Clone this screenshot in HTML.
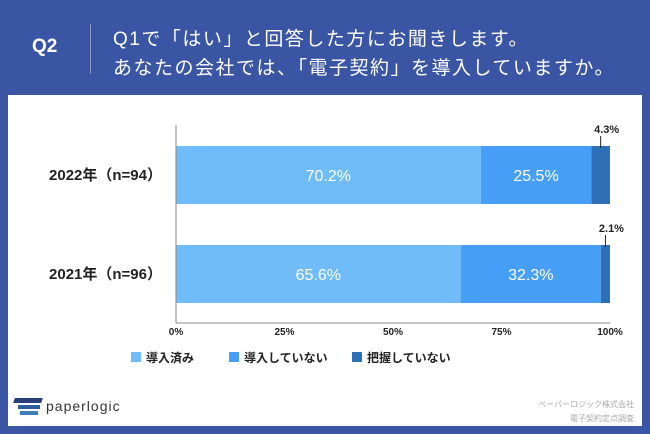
<!DOCTYPE html>
<html><head><meta charset="utf-8"><style>
body{margin:0;width:650px;height:434px;background:#3a55a3;font-family:"Liberation Sans","Noto Sans CJK JP",sans-serif;overflow:hidden;position:relative}
.abs{position:absolute}
</style></head><body>
<div class="abs" style="left:32px;top:36px;color:#fff;font-size:19px;font-weight:bold">Q2</div>
<div class="abs" style="left:90px;top:24px;width:1px;height:50px;background:#8a9acb"></div>
<div class="abs" style="left:113px;top:25px;color:#fff;font-size:19px;line-height:29px;letter-spacing:1.5px;white-space:nowrap">Q1で「はい」と回答した方にお聞きします。<br>あなたの会社では、「電子契約」を導入していますか。</div>
<div class="abs" style="left:8px;top:95px;width:634px;height:331px;background:#fff"></div>
<svg class="abs" style="left:0;top:0" width="650" height="434" id="chart"></svg>
<div class="abs" style="left:14px;top:398px;width:30px;height:20px">
<div style="position:absolute;left:0;top:0;width:28px;height:5px;background:#2a3f78;transform:skewX(-20deg)"></div>
<div style="position:absolute;left:4px;top:7px;width:22px;height:4px;background:#2f5f9a"></div>
<div style="position:absolute;left:6px;top:13px;width:18px;height:4px;background:#3f7fb8"></div>
</div>
<div class="abs" style="left:46px;top:398px;font-size:14px;color:#333;letter-spacing:1px">paperlogic</div>
<div class="abs" style="right:16px;top:398px;font-size:8px;color:#aaa;text-align:right;line-height:14px">ペーパーロジック株式会社<br>電子契約定点調査</div>
<script>
const categories=["2022年（n=94）","2021年（n=96）"];
const seriesNames=["導入済み","導入していない","把握していない"];
const adopted=[70.2,65.6];
const notAdopted=[25.5,32.3];
const unknown=[4.3,2.1];
const ticks=[0,25,50,75,100];
const colors=["#6fbcf8","#469ef6","#2e6fb5"];
const svg=document.getElementById('chart');
const NS="http://www.w3.org/2000/svg";
const x0=176,x1=610;
const xs=v=>x0+(x1-x0)*v/100;
const barTop=[146,245],barH=58;
function mk(t,a){const e=document.createElementNS(NS,t);for(const k in a)e.setAttribute(k,a[k]);svg.appendChild(e);return e;}
const series=[adopted,notAdopted,unknown];
categories.forEach((c,i)=>{
  let acc=0;
  series.forEach((s,j)=>{
    const r=mk('rect',{x:xs(acc),y:barTop[i],width:xs(acc+s[i])-xs(acc),height:barH,fill:colors[j]});
    
    
    const mid=xs(acc+s[i]/2);
    if(j<2){
      const t=mk('text',{x:mid,y:barTop[i]+barH/2+6,'text-anchor':'middle',fill:'#fff','font-size':16});
      t.textContent=s[i].toFixed(1)+'%';
      
      
    }else{
      const l=mk('line',{x1:mid,x2:mid,y1:barTop[i]-10,y2:barTop[i]+2,stroke:'#222','stroke-width':1});
      
      
      const t=mk('text',{x:mid+6,y:barTop[i]-13,'text-anchor':'middle',fill:'#222','font-size':11,'font-weight':'bold'});
      t.textContent=s[i].toFixed(1)+'%';
      
      
    }
    acc+=s[i];
  });
  const lab=mk('text',{x:162,y:barTop[i]+barH/2+5,'text-anchor':'end',fill:'#222','font-size':15,'font-weight':'bold'});
  lab.textContent=c;
  
  
});
const ax=mk('line',{x1:x0,x2:x0,y1:125,y2:323,stroke:'#888','stroke-width':1});


const bx=mk('line',{x1:x0,x2:x1,y1:323,y2:323,stroke:'#888','stroke-width':1});


ticks.forEach(v=>{
  const t=mk('text',{x:xs(v),y:335,'text-anchor':'middle',fill:'#222','font-size':10,'font-weight':'bold'});
  t.textContent=v+'%';
  
  
});
const lx=[131,229,352];
seriesNames.forEach((n,j)=>{
  const r=mk('rect',{x:lx[j],y:352,width:10,height:10,fill:colors[j]});
  
  
  const t=mk('text',{x:lx[j]+15,y:362,fill:'#222','font-size':12,'font-weight':'bold'});
  t.textContent=n;
  
  
});
</script>
</body></html>
